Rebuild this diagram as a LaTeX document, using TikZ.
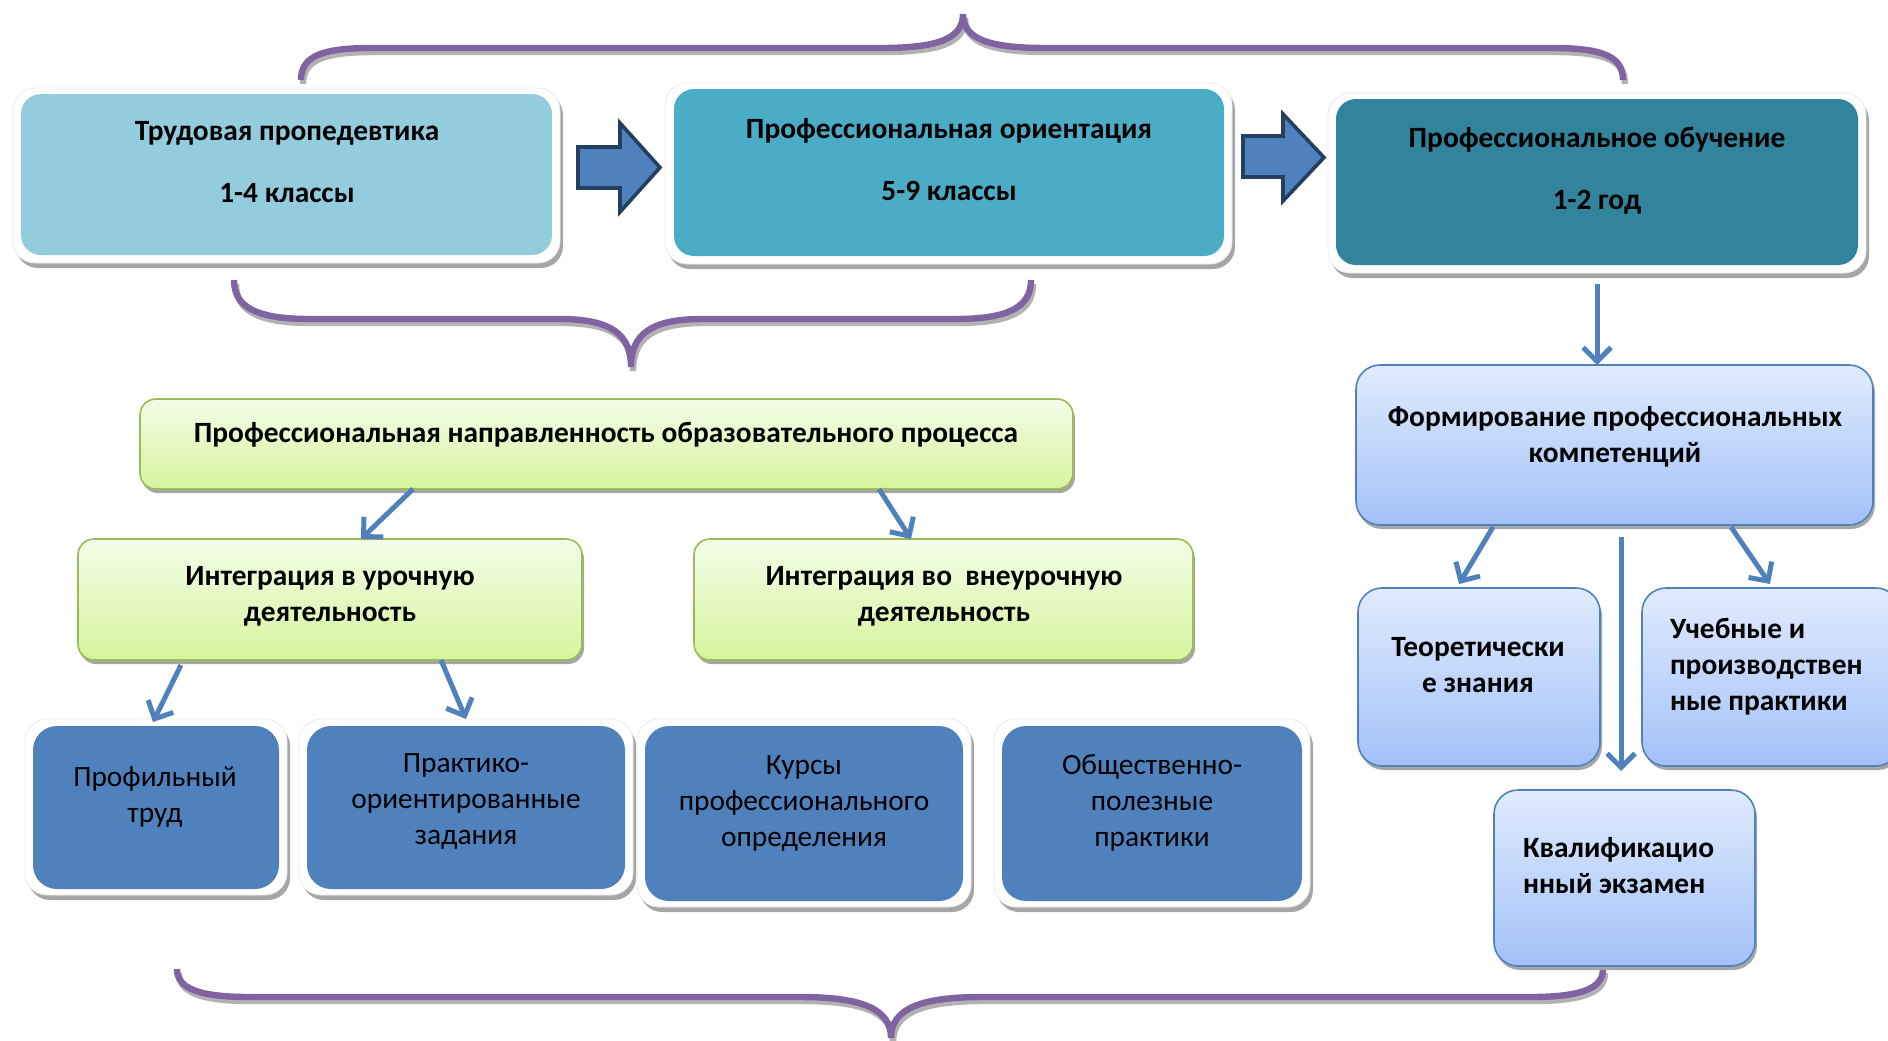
\documentclass[tikz,border=0pt]{standalone}
\usepackage{fontspec}
\setmainfont{Carlito}
\usetikzlibrary{shadows,arrows.meta,calc}
\definecolor{cA}{HTML}{93CDDD}
\definecolor{cB}{HTML}{4BACC6}
\definecolor{cC}{HTML}{31849B}
\definecolor{dblue}{HTML}{4F81BD}
\definecolor{darr}{HTML}{243F60}
\definecolor{purp}{HTML}{8064A2}
\definecolor{gtop}{HTML}{F3FCE8}
\definecolor{gbot}{HTML}{D6F59E}
\definecolor{gbrd}{HTML}{9BBB59}
\definecolor{ltop}{HTML}{E0EBFD}
\definecolor{lbot}{HTML}{A3C1F8}
\definecolor{lbrd}{HTML}{4F81BD}
\newcommand\mkbox[6]{\node[#6, minimum width={(#4-#2)*0.5pt}, minimum height={(#5-#3)*0.5pt}] (#1) at ({(#2+#4)/2},{(#3+#5)/2}) {};}
\newcommand\drawbrace[1]{\draw[braceshadow,shift={(2,4)}] #1; \draw[bracestyle] #1;}
\begin{document}
\begin{tikzpicture}[x=0.5pt,y=-0.5pt,
  every node/.style={inner sep=0pt, outer sep=0pt},
  frame/.style={fill=white, draw=black!8, rounded corners=11pt,
    drop shadow={shadow xshift=1.5pt, shadow yshift=-2.5pt, fill=black!35, opacity=1}},
  topbox/.style={rounded corners=10pt},
  dbox/.style={fill=dblue, rounded corners=12pt},
  gbox/.style={top color=gtop, bottom color=gbot, draw=gbrd, line width=0.8pt, rounded corners=8pt,
    drop shadow={shadow xshift=1pt, shadow yshift=-2pt, fill=black!35, opacity=1}},
  lbox/.style={top color=ltop, bottom color=lbot, draw=lbrd, line width=0.8pt, rounded corners=12pt,
    drop shadow={shadow xshift=1pt, shadow yshift=-2pt, fill=black!35, opacity=1}},
  hdr/.style={font=\fontsize{14.7}{18}\selectfont\bfseries, align=center},
  reg/.style={font=\fontsize{14.7}{18}\selectfont, align=center},
  conn/.style={draw=dblue, line width=2.5pt, -{Straight Barb[length=7pt,width=14pt,line width=2.5pt]}},
  blockarrow/.style={fill=dblue, draw=darr, line width=1.8pt, line join=miter},
  bracestyle/.style={draw=purp, line width=3.2pt},
  braceshadow/.style={draw=black!30, line width=3.2pt}
]
\useasboundingbox (0,0) rectangle (1888,1040);
\clip (0,0) rectangle (1888,1040);

% braces
\drawbrace{(301,80) .. controls (301,56) and (322,48) .. (372,48) -- (880,48) .. controls (935,48) and (963,40) .. (963,14) .. controls (963,40) and (991,48) .. (1046,48) -- (1552,48) .. controls (1602,48) and (1623,56) .. (1623,80)}
\drawbrace{(234,280) .. controls (234,308) and (258,319) .. (310,319) -- (560,319) .. controls (612,319) and (631,335) .. (631,367) .. controls (631,335) and (650,319) .. (702,319) -- (955,319) .. controls (1007,319) and (1031,308) .. (1031,280)}
\drawbrace{(177,969) .. controls (177,989) and (200,997) .. (250,997) -- (800,997) .. controls (860,997) and (891,1008) .. (891,1038) .. controls (891,1008) and (922,997) .. (982,997) -- (1530,997) .. controls (1580,997) and (1603,989) .. (1603,969)}

% top boxes
\mkbox{f1}{13}{88}{560}{263}{frame}
\mkbox{b1}{21}{94}{552}{255}{topbox, fill=cA}
\node[hdr] (t1) at (287,162) {Трудовая пропедевтика\\[13pt]1-4 классы};
\mkbox{f2}{665}{83}{1232}{264}{frame}
\mkbox{b2}{674}{89}{1224}{256}{topbox, fill=cB}
\node[hdr] (t2) at (949,160) {Профессиональная ориентация\\[13pt]5-9 классы};
\mkbox{f3}{1328}{93}{1866}{273}{frame}
\mkbox{b3}{1336}{99}{1858}{265}{topbox, fill=cC}
\node[hdr] (t3) at (1597,171) {Профессиональное обучение\\[13pt]1-2 год};

% block arrows
\draw[blockarrow] (578,147) -- (620,147) -- (620,123) -- (660,167.5) -- (620,212) -- (620,188) -- (578,188) -- cycle;
\draw[blockarrow] (1243,136) -- (1283,136) -- (1283,114) -- (1324,157.5) -- (1283,201) -- (1283,177) -- (1243,177) -- cycle;

% green boxes
\mkbox{gbig}{140}{399}{1073}{489}{gbox}
\node[hdr] (tg) at (606,435) {Профессиональная направленность образовательного процесса};
\mkbox{g1}{78}{539}{582}{660}{gbox}
\node[hdr] (tg1) at (330,596) {Интеграция в урочную\\деятельность};
\mkbox{g2}{694}{539}{1193}{660}{gbox}
\node[hdr] (tg2) at (944,596) {Интеграция во\ \ внеурочную\\деятельность};

% dark blue boxes
\mkbox{df1}{25}{719}{287}{895}{frame}
\mkbox{d1}{33}{726}{279}{889}{dbox}
\node[reg] (td1) at (155,797) {Профильный\\труд};
\mkbox{df2}{299}{719}{633}{895}{frame}
\mkbox{d2}{307}{726}{625}{889}{dbox}
\node[reg] (td2) at (466,801) {Практико-\\ориентированные\\задания};
\mkbox{df3}{637}{719}{971}{907}{frame}
\mkbox{d3}{645}{726}{963}{901}{dbox}
\node[reg] (td3) at (804,803) {Курсы\\профессионального\\определения};
\mkbox{df4}{994}{719}{1310}{907}{frame}
\mkbox{d4}{1002}{726}{1302}{901}{dbox}
\node[reg] (td4) at (1152,803) {Общественно-\\полезные\\практики};

% light blue boxes
\mkbox{form}{1356}{365}{1873}{525}{lbox}
\node[hdr] (tform) at (1615,437) {Формирование профессиональных\\компетенций};
\mkbox{teor}{1358}{588}{1600}{766}{lbox}
\node[hdr] (tteor) at (1478,665) {Теоретически\\е знания};
\mkbox{uch}{1642}{588}{1900}{766}{lbox}
\node[hdr, align=left, anchor=west] (tuch) at (1670,667) {Учебные и\\производствен\\ные практики};
\mkbox{kval}{1494}{790}{1755}{966}{lbox}
\node[hdr, align=left, anchor=west] (tkval) at (1523,866) {Квалификацио\\нный экзамен};

% connectors
\draw[conn] ([yshift=-5.5pt]f3.south) -- (f3.south |- form.north);
\draw[conn] ($(gbig.south west)+(273,0)$) -- ($(g1.north west)+(283,0)$);
\draw[conn] ($(gbig.south west)+(739,0)$) -- ($(g2.north west)+(217,0)$);
\draw[conn] ($(g1.south west)+(103,5)$) -- ($(d1.north west)+(120,-4)$);
\draw[conn] ($(g1.south west)+(363,0)$) -- ($(d2.north west)+(159,-7)$);
\draw[conn] ($(form.south west)+(137,2)$) -- ($(teor.north west)+(101,-4)$);
\draw[conn] ($(form.south west)+(375,2)$) -- ($(uch.north west)+(128,-4)$);
\draw[conn] ($(form.south west)+(265,12)$) -- ($(kval.north west)+(127,-19)$);
\end{tikzpicture}
\end{document}
